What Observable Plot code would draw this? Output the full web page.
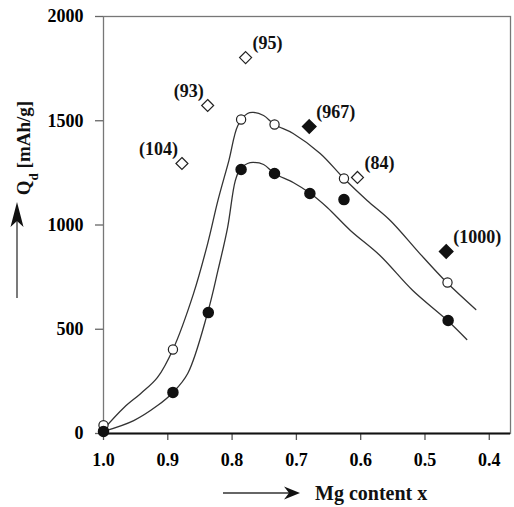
<!DOCTYPE html>
<html>
<head>
<meta charset="utf-8">
<script src="https://cdn.jsdelivr.net/npm/d3@7"></script>
<script src="https://cdn.jsdelivr.net/npm/@observablehq/plot@0.6"></script>
<style>
  html, body { margin: 0; padding: 0; background: #fff; }
  #chart { width: 514px; height: 507px; }
</style>
</head>
<body>
<div id="chart"></div>
<script>
// Tick labels
const xTicks = [1.0, 0.9, 0.8, 0.7, 0.6, 0.5, 0.4];
const yTicks = [0, 500, 1000, 1500, 2000];

// Open circles (upper series)
const openX = [1.0, 0.892, 0.786, 0.734, 0.626, 0.465];
const openY = [40, 403, 1506, 1482, 1223, 724];

// Filled circles (lower series)
const filledX = [1.0, 0.892, 0.837, 0.786, 0.734, 0.679, 0.626, 0.464];
const filledY = [10, 197, 580, 1266, 1247, 1151, 1122, 542];

// Open diamonds (literature values) with labels
const openDiamondX = [0.779, 0.838, 0.878, 0.605];
const openDiamondY = [1803, 1573, 1295, 1228];
const openDiamondLabel = ["(95)", "(93)", "(104)", "(84)"];

// Filled diamonds with labels
const filledDiamondX = [0.680, 0.467];
const filledDiamondY = [1472, 873];
const filledDiamondLabel = ["(967)", "(1000)"];

// Fitted curves
const upperFitX = [1.0, 0.968, 0.942, 0.916, 0.892, 0.860, 0.838, 0.822, 0.805, 0.791, 0.776, 0.767, 0.751, 0.734, 0.705, 0.663, 0.626, 0.590, 0.554, 0.508, 0.466, 0.421];
const upperFitY = [20, 125, 192, 269, 403, 671, 911, 1118, 1309, 1477, 1535, 1540, 1525, 1482, 1439, 1343, 1223, 1118, 1022, 863, 724, 595];
const lowerFitX = [1.0, 0.953, 0.916, 0.892, 0.869, 0.838, 0.822, 0.807, 0.795, 0.787, 0.776, 0.767, 0.751, 0.734, 0.705, 0.678, 0.652, 0.616, 0.570, 0.519, 0.465, 0.435];
const lowerFitY = [10, 62, 134, 197, 288, 580, 782, 988, 1213, 1271, 1295, 1300, 1290, 1247, 1204, 1151, 1084, 974, 854, 686, 542, 451];

// Which diamond labels sit to the left of their marker
const leftLabels = ["(93)", "(104)"];

const zip = (xs, ys, ls) => xs.map((x, i) => ({x, y: ys[i], label: ls ? ls[i] : undefined}));
const openPts = zip(openX, openY);
const filledPts = zip(filledX, filledY);
const openDia = zip(openDiamondX, openDiamondY, openDiamondLabel);
const filledDia = zip(filledDiamondX, filledDiamondY, filledDiamondLabel);
const allDia = openDia.concat(filledDia);
const upperFit = zip(upperFitX, upperFitY);
const lowerFit = zip(lowerFitX, lowerFitY);

const FONT = "'Liberation Serif', 'Times New Roman', serif";

const svg = Plot.plot({
  width: 514,
  height: 507,
  marginTop: 16,
  marginBottom: 74,
  marginLeft: 103,
  marginRight: 4,
  style: {fontFamily: FONT, fontSize: "18px", fontWeight: "bold", background: "white", color: "black"},
  x: {domain: [1.0, 0.367]},
  y: {domain: [0, 2000]},
  marks: [
    Plot.frame({stroke: "#777", strokeWidth: 1.3}),
    Plot.axisX({ticks: xTicks, tickFormat: d3.format(".1f"), tickSize: 7, tickPadding: 13, label: null, stroke: "#555", fill: "black", strokeWidth: 1.3}),
    Plot.axisY({ticks: yTicks, tickFormat: d3.format("d"), tickSize: 8, tickPadding: 12, label: null, stroke: "#666", fill: "black", strokeWidth: 1.3}),
    Plot.line(upperFit, {x: "x", y: "y", curve: "catmull-rom", stroke: "#333", strokeWidth: 1.3}),
    Plot.line(lowerFit, {x: "x", y: "y", curve: "catmull-rom", stroke: "#333", strokeWidth: 1.3}),
    Plot.ruleY([0], {stroke: "#111", strokeWidth: 2.2}),
    Plot.dot(openPts, {x: "x", y: "y", r: 4.6, fill: "white", stroke: "#222", strokeWidth: 1.2}),
    Plot.dot(filledPts, {x: "x", y: "y", r: 5, fill: "#111", stroke: "#111"}),
    Plot.dot(openDia, {x: "x", y: "y", symbol: "diamond2", r: 5.4, fill: "white", stroke: "#222", strokeWidth: 1.2}),
    Plot.dot(filledDia, {x: "x", y: "y", symbol: "diamond2", r: 6, fill: "#111", stroke: "#111"}),
    Plot.text(allDia.filter(d => !leftLabels.includes(d.label)), {x: "x", y: "y", text: "label", textAnchor: "start", dx: 7, dy: -14, fill: "#111", fontSize: 18, fontWeight: "bold"}),
    Plot.text(allDia.filter(d => leftLabels.includes(d.label)), {x: "x", y: "y", text: "label", textAnchor: "end", dx: -4, dy: -14, fill: "#111", fontSize: 18, fontWeight: "bold"})
  ]
});

document.getElementById("chart").appendChild(svg);

// Axis titles with arrows (decorations in the margins)
const s = d3.select(svg);
const g = s.append("g").attr("fill", "#111").style("font-family", FONT).style("font-weight", "bold");

// Y title
const yt = g.append("text")
  .attr("transform", "translate(30,148) rotate(-90)")
  .attr("text-anchor", "middle")
  .style("font-size", "19px");
yt.append("tspan").text("Q");
yt.append("tspan").attr("baseline-shift", "sub").style("font-size", "13px").text("d");
yt.append("tspan").text(" [mAh/g]");

// Y arrow
g.append("line").attr("x1", 17).attr("x2", 17).attr("y1", 298).attr("y2", 218).attr("stroke", "#333").attr("stroke-width", 1.3);
g.append("path").attr("d", "M17,202 L23.5,227 L17,221 L10.5,227 Z").attr("fill", "#111");

// X arrow
g.append("line").attr("x1", 223).attr("x2", 290).attr("y1", 493).attr("y2", 493).attr("stroke", "#333").attr("stroke-width", 1.3);
g.append("path").attr("d", "M300,493 L284,486.5 L289,493 L284,499.5 Z").attr("fill", "#111");

// X title
g.append("text").attr("x", 315).attr("y", 500).attr("text-anchor", "start").style("font-size", "20px").text("Mg content x");
</script>
</body>
</html>
